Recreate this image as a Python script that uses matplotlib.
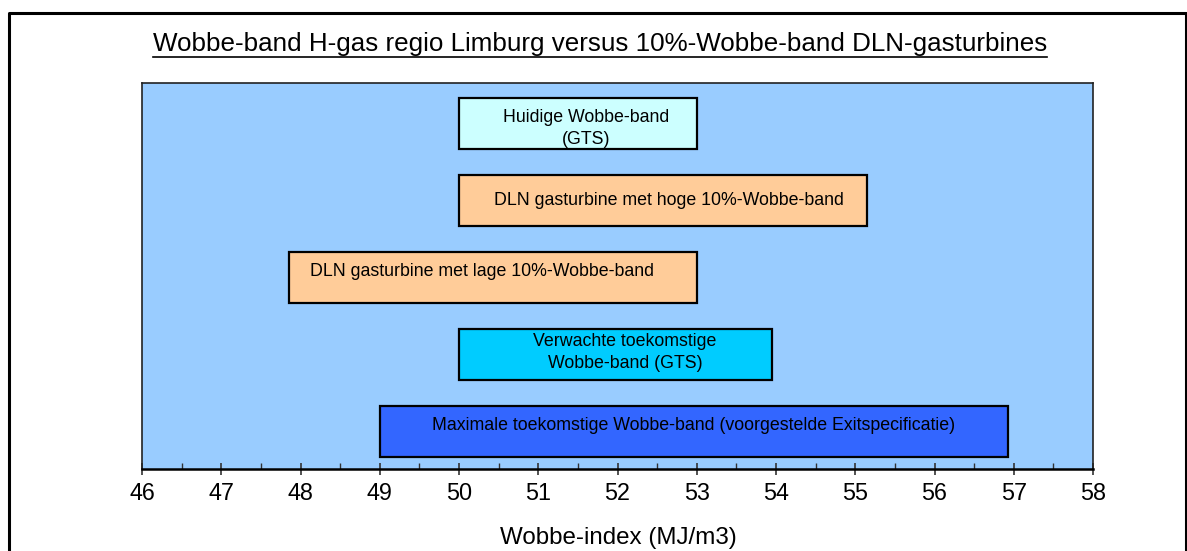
import matplotlib.pyplot as plt
from matplotlib.lines import Line2D
from matplotlib.ticker import MultipleLocator

plt.rcParams['font.family'] = ['Liberation Sans', 'DejaVu Sans']

# banden, van boven naar beneden
labels = ["Huidige Wobbe-band\n(GTS)",
          "DLN gasturbine met hoge 10%-Wobbe-band",
          "DLN gasturbine met lage 10%-Wobbe-band",
          "Verwachte toekomstige\nWobbe-band (GTS)",
          "Maximale toekomstige Wobbe-band (voorgestelde Exitspecificatie)"]
band_lo = [50.0, 50.0, 47.85, 50.0, 49.0]
band_hi = [53.0, 55.15, 53.0, 53.95, 56.93]
kleuren = ["#CCFFFF", "#FFCC99", "#FFCC99", "#00CCFF", "#3366FF"]
titel = "Wobbe-band H-gas regio Limburg versus 10%-Wobbe-band DLN-gasturbines"
xlabel = "Wobbe-index (MJ/m3)"

fig = plt.figure(figsize=(11.87, 5.51), dpi=100)
ax = fig.add_axes([142/1187, 1 - 469/551, 951/1187, 386/551])
ax.set_facecolor("#99CCFF")

n = len(labels)
ypos = [n - 1 - i for i in range(n)]
for i in range(n):
    ax.barh(ypos[i], band_hi[i] - band_lo[i], left=band_lo[i], height=0.66,
            color=kleuren[i], edgecolor="black", linewidth=1.6, zorder=3)

# tekst in de balken (kleine verschuivingen zoals in het origineel)
dx = [0.1, 0.08, -0.14, 0.12, 0.0]
dy = [-0.06, 0.0, 0.08, 0.02, 0.08]
for i in range(n):
    xc = (band_lo[i] + band_hi[i]) / 2 + dx[i]
    ax.text(xc, ypos[i] + dy[i], labels[i], ha="center", va="center",
            fontsize=12.8, zorder=4, linespacing=1.38)

ax.set_xlim(46, 58)
ax.set_ylim(-0.49, n - 1 + 0.53)
ax.xaxis.set_major_locator(MultipleLocator(1))
ax.xaxis.set_minor_locator(MultipleLocator(0.5))
ax.tick_params(axis="x", which="major", direction="inout", length=9, width=1.2,
               labelsize=16.8, pad=5, color="#333333")
ax.tick_params(axis="x", which="minor", direction="in", length=4, width=1.0,
               color="#333333")
ax.set_yticks([])
for s in ["top", "left", "right"]:
    ax.spines[s].set_linewidth(1.2)
    ax.spines[s].set_color("#222222")
ax.spines["bottom"].set_linewidth(1.8)

fig.text(618/1187, 1 - 538/551, xlabel, ha="center", va="center", fontsize=17.4)

# titel met onderstreping
t = fig.text(600/1187, 1 - 44/551, titel, ha="center", va="center", fontsize=18.7)
fig.canvas.draw()
bb = t.get_window_extent().transformed(fig.transFigure.inverted())
fig.add_artist(Line2D([bb.x0, bb.x1], [1 - 57/551, 1 - 57/551],
                      transform=fig.transFigure, color="black", lw=1.2))

# kader rond de grafiek (onderkant valt buiten beeld)
kader_x = [9.5/1187, 9.5/1187, 1185.5/1187, 1185.5/1187]
kader_y = [-0.05, 1 - 13/551, 1 - 13/551, -0.05]
fig.add_artist(Line2D(kader_x, kader_y, transform=fig.transFigure,
                      color="black", lw=2.2))

fig.savefig("out.png", dpi=100)
